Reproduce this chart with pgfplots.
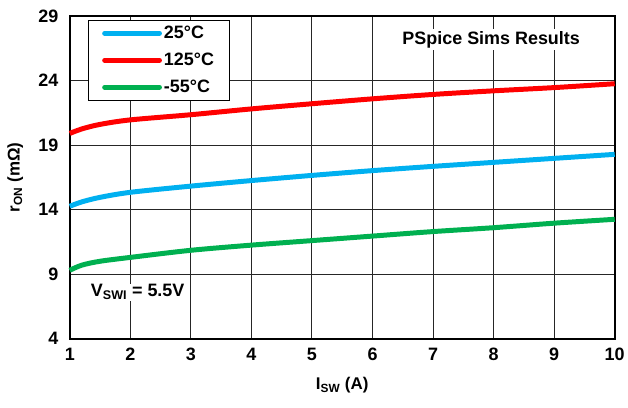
\documentclass[border=0pt]{standalone}
\usepackage{pgfplots}
\pgfplotsset{compat=1.18}
\usepackage{fontspec}
\setmainfont{Liberation Sans}
\definecolor{cblue}{RGB}{0,176,240}
\definecolor{cred}{RGB}{255,0,0}
\definecolor{cgreen}{RGB}{0,176,80}
\begin{document}
\begin{tikzpicture}
\path (-70pt,-69pt) rectangle (558pt,340pt);
\begin{axis}[
  at={(0pt,0pt)}, anchor=origin,
  scale only axis, width=547pt, height=324pt,
  xmin=1, xmax=10, ymin=4, ymax=29,
  xtick={1,...,10}, ytick={4,9,14,19,24,29},
  grid=major, major grid style={draw=black!85, line width=1pt},
  axis line style={line width=1.8pt},
  major tick length=0pt,
  tick style={draw=none},
  /pgf/number format/assume math mode=true,
  ticklabel style={font=\fontsize{18}{21}\selectfont\bfseries},
  xticklabel style={yshift=-6pt},
  yticklabel style={xshift=-8pt},
  xlabel={I\textsubscript{SW} (A)},
  ylabel={r\textsubscript{ON} (mΩ)},
  label style={font=\fontsize{17}{20}\selectfont\bfseries},
  xlabel style={at={(axis description cs:0.5,-0.145)}, anchor=center},
  ylabel style={at={(axis description cs:-0.1,0.5)}, anchor=center},
  clip=false,
  legend style={at={(axis description cs:0.033,0.988)}, anchor=north west,
    draw=black, line width=1pt, fill=white,
    font=\fontsize{18}{21}\selectfont\bfseries,
    inner xsep=14pt, inner ysep=4pt, row sep=9pt,
    cells={anchor=west}},
  legend image code/.code={\draw[#1, line cap=round] (0pt,0pt) -- (55pt,0pt);},
]
\addplot[cblue, line width=5pt, smooth] coordinates {
(1,14.26) (1.2,14.6) (1.5,14.95) (2,15.34) (3,15.82) (4,16.25) (5,16.65) (6,17.02) (7,17.35) (8,17.66) (9,17.97) (10,18.28)};
\addlegendentry{25°C}
\addplot[cred, line width=5pt, smooth] coordinates {
(1,19.9) (1.2,20.25) (1.5,20.6) (2,20.95) (3,21.35) (4,21.8) (5,22.2) (6,22.58) (7,22.92) (8,23.2) (9,23.45) (10,23.75)};
\addlegendentry{125°C}
\addplot[cgreen, line width=5pt, smooth] coordinates {
(1,9.3) (1.2,9.7) (1.5,10.0) (2,10.3) (3,10.85) (4,11.25) (5,11.6) (6,11.95) (7,12.3) (8,12.6) (9,12.95) (10,13.25)};
\addlegendentry{-55°C}
\node[font=\fontsize{18}{21}\selectfont\bfseries, fill=white, inner sep=2pt] at (axis cs:7.96,27.15) {PSpice Sims Results};
\node[font=\fontsize{18}{21}\selectfont\bfseries, anchor=west, fill=white, inner sep=1pt] at (axis cs:1.33,7.6) {V\textsubscript{SWI} = 5.5V};
\end{axis}
\end{tikzpicture}
\end{document}
